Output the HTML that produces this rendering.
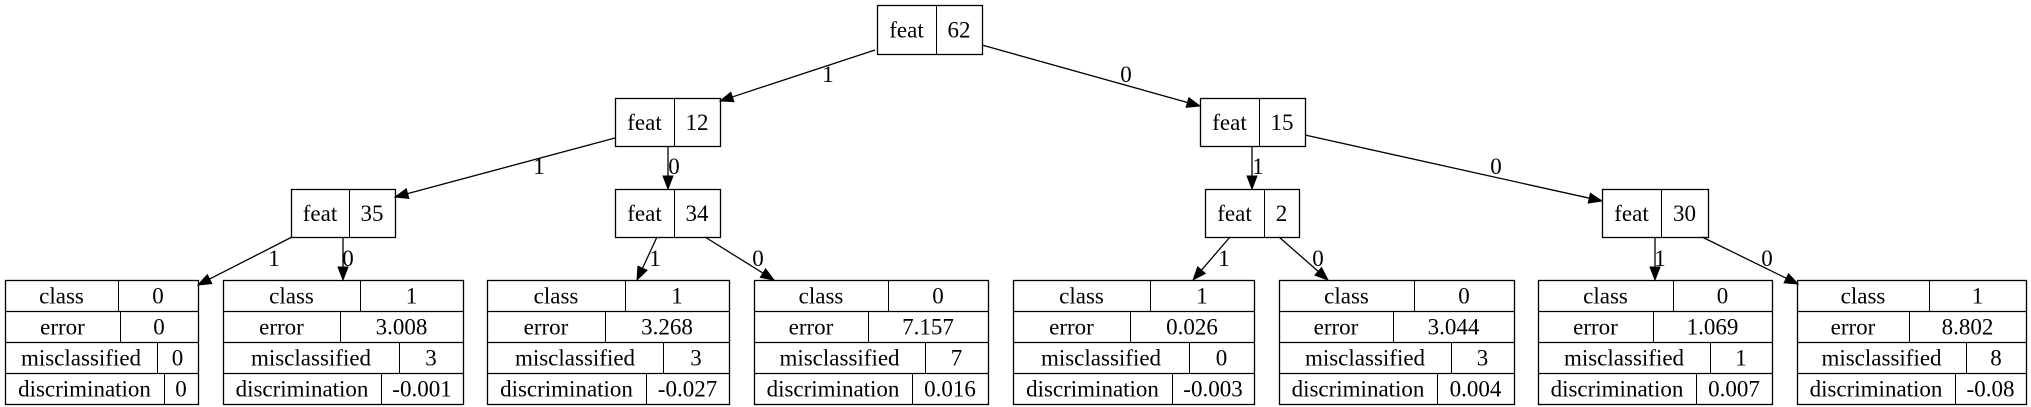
<!DOCTYPE html>
<html><head><meta charset="utf-8"><style>
html,body{margin:0;padding:0;background:#fff;}
svg{display:block;}
text{font-family:"Liberation Serif",serif;font-size:23px;fill:#000;}
</style></head><body>
<svg id="tree" width="2031" height="407" viewBox="0 0 2031 407" xmlns="http://www.w3.org/2000/svg"></svg>
<script>
const NS="http://www.w3.org/2000/svg";
const svg=document.getElementById('tree');
const splitIds=['n62','n12','n15','n35','n34','n2','n30'];
const splitFeat=[62,12,15,35,34,2,30];
const splitBox=[[877,982,936,5,54],[615,720,674,98,146],[1200,1305,1259,98,146],[291,395,349,189,237],[615,720,674,189,237],[1205,1299,1264,189,237],[1602,1708,1661,189,237]];
const leafClass=[0,1,1,0,1,0,0,1];
const leafError=['0','3.008','3.268','7.157','0.026','3.044','1.069','8.802'];
const leafMis=[0,3,3,7,0,3,1,8];
const leafDisc=['0','-0.001','-0.027','0.016','-0.003','0.004','0.007','-0.08'];
const leafX=[[5,198],[223,463],[487,729],[754,988],[1013,1254],[1279,1514],[1538,1772],[1797,2026]];
const leafDiv=[[118,120,157,164],[360,340,399,381],[625,605,663,646],[888,868,925,912],[1150,1130,1189,1172],[1414,1393,1451,1437],[1673,1653,1710,1696],[1929,1909,1966,1955]];
const rowY=[280,311,342,373,404];
const rowNames=['class','error','misclassified','discrimination'];
const edges=[[875,50,720,101,'1',828,82],[982,45,1200,106,'0',1126,82],[615,138,395,197,'1',539,174],[668,146,668,189,'0',674,174],
[292,237,198,285,'1',274,266],[343,237,343,280,'0',348,266],[657,237,637,280,'1',655,266],[705,237,774,280,'0',758,266],
[1252,146,1252,189,'1',1258,174],[1305,135,1602,201,'0',1496,174],[1230,237,1193,280,'1',1224,266],[1279,237,1328,280,'0',1318,266],
[1655,237,1655,280,'1',1660,266],[1702,237,1798,284,'0',1767,266]];
function mk(t,a,p){const e=document.createElementNS(NS,t);for(const k in a)e.setAttribute(k,a[k]);(p||svg).appendChild(e);return e;}
function txt(x,y,s,p){const e=mk('text',{x:x,y:y,'text-anchor':'middle'},p);e.textContent=s;return e;}
splitIds.forEach((id,i)=>{
  const [x0,x1,d,y0,y1]=splitBox[i];
  const g=mk('g',{});
  
  
  mk('rect',{x:x0+0.5,y:y0+0.5,width:x1-x0,height:y1-y0,fill:'#fff',stroke:'#000','stroke-width':1.3},g);
  mk('line',{x1:d+0.5,y1:y0,x2:d+0.5,y2:y1,stroke:'#000','stroke-width':1},g);
  const ym=(y0+y1)/2+8;
  txt((x0+d)/2,ym,'feat',g);
  txt((d+x1)/2,ym,String(splitFeat[i]),g);
});
leafX.forEach((lx,i)=>{
  const [x0,x1]=lx;
  const g=mk('g',{});
  
  
  mk('rect',{x:x0+0.5,y:rowY[0]+0.5,width:x1-x0,height:rowY[4]-rowY[0],fill:'#fff',stroke:'#000','stroke-width':1.3},g);
  const vals=[String(leafClass[i]),leafError[i],String(leafMis[i]),leafDisc[i]];
  for(let r=0;r<4;r++){
    if(r>0) mk('line',{x1:x0,y1:rowY[r]+0.5,x2:x1,y2:rowY[r]+0.5,stroke:'#000','stroke-width':1.3},g);
    const d=leafDiv[i][r];
    mk('line',{x1:d+0.5,y1:rowY[r],x2:d+0.5,y2:rowY[r+1],stroke:'#000','stroke-width':1},g);
    const ym=(rowY[r]+rowY[r+1])/2+8;
    txt((x0+d)/2,ym,rowNames[r],g);
    txt((d+x1)/2,ym,vals[r],g);
  }
});
edges.forEach((e,i)=>{
  const [x1,y1,x2,y2,lab,lx,ly]=e;
  const g=mk('g',{});
  
  
  const dx=x2-x1,dy=y2-y1,L=Math.hypot(dx,dy),ux=dx/L,uy=dy/L,ah=13,aw=5;
  const bx=x2-ux*ah,by=y2-uy*ah;
  mk('line',{x1:x1,y1:y1,x2:bx,y2:by,stroke:'#000','stroke-width':1.3},g);
  mk('polygon',{points:`${x2},${y2} ${bx-uy*aw},${by+ux*aw} ${bx+uy*aw},${by-ux*aw}`,fill:'#000',stroke:'#000'},g);
  txt(lx,ly,lab,g);
});
</script>
</body></html>
